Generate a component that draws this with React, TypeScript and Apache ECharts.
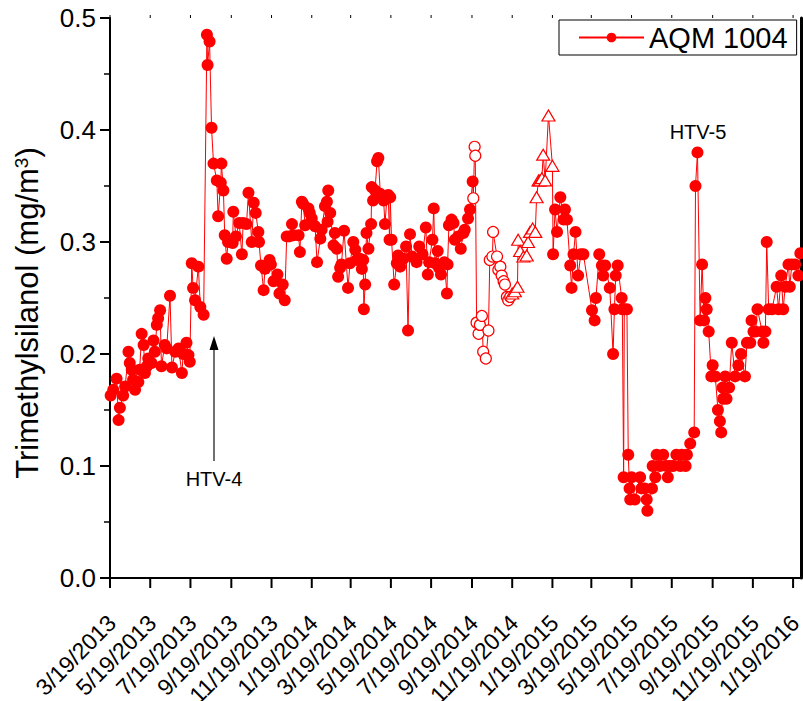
import { useEffect, useRef } from 'react';
import * as echarts from 'echarts';

const FONT = '"Liberation Sans", Arial, Helvetica, sans-serif';

const tickDates = [
  '2013-03-19', '2013-05-19', '2013-07-19', '2013-09-19', '2013-11-19',
  '2014-01-19', '2014-03-19', '2014-05-19', '2014-07-19', '2014-09-19',
  '2014-11-19', '2015-01-19', '2015-03-19', '2015-05-19', '2015-07-19',
  '2015-09-19', '2015-11-19', '2016-01-19',
];
const tickLabels = [
  '3/19/2013', '5/19/2013', '7/19/2013', '9/19/2013', '11/19/2013',
  '1/19/2014', '3/19/2014', '5/19/2014', '7/19/2014', '9/19/2014',
  '11/19/2014', '1/19/2015', '3/19/2015', '5/19/2015', '7/19/2015',
  '9/19/2015', '11/19/2015', '1/19/2016',
];
const xStart = '2013-03-19';
const xEnd = '2016-01-31';

const seriesName = 'AQM 1004';

// filled circles
const filledPoints: [string, number][] = [
  ['2013-03-20', 0.163], ['2013-03-24', 0.168], ['2013-03-29', 0.178], ['2013-04-01', 0.141],
  ['2013-04-03', 0.152], ['2013-04-08', 0.163], ['2013-04-11', 0.171], ['2013-04-16', 0.202],
  ['2013-04-18', 0.192], ['2013-04-21', 0.186], ['2013-04-23', 0.177], ['2013-04-26', 0.168],
  ['2013-05-01', 0.175], ['2013-05-03', 0.186], ['2013-05-06', 0.218], ['2013-05-09', 0.208],
  ['2013-05-11', 0.183], ['2013-05-14', 0.189], ['2013-05-16', 0.196], ['2013-05-21', 0.192],
  ['2013-05-24', 0.212], ['2013-05-26', 0.202], ['2013-05-29', 0.226], ['2013-05-31', 0.232],
  ['2013-06-03', 0.239], ['2013-06-05', 0.189], ['2013-06-10', 0.208], ['2013-06-13', 0.205],
  ['2013-06-18', 0.252], ['2013-06-21', 0.188], ['2013-06-26', 0.202], ['2013-07-01', 0.205],
  ['2013-07-06', 0.183], ['2013-07-08', 0.200], ['2013-07-13', 0.210], ['2013-07-16', 0.199],
  ['2013-07-18', 0.193], ['2013-07-21', 0.281], ['2013-07-23', 0.259], ['2013-07-26', 0.248],
  ['2013-07-31', 0.278], ['2013-08-03', 0.242], ['2013-08-08', 0.235], ['2013-08-13', 0.485],
  ['2013-08-14', 0.458], ['2013-08-17', 0.479], ['2013-08-20', 0.402], ['2013-08-23', 0.370],
  ['2013-08-28', 0.355], ['2013-08-30', 0.323], ['2013-09-03', 0.353], ['2013-09-04', 0.370],
  ['2013-09-07', 0.346], ['2013-09-09', 0.306], ['2013-09-12', 0.285], ['2013-09-14', 0.300],
  ['2013-09-21', 0.299], ['2013-09-22', 0.327], ['2013-09-26', 0.305], ['2013-10-01', 0.317],
  ['2013-10-05', 0.289], ['2013-10-07', 0.317], ['2013-10-12', 0.316], ['2013-10-15', 0.344],
  ['2013-10-20', 0.300], ['2013-10-23', 0.335], ['2013-10-26', 0.326], ['2013-10-30', 0.309],
  ['2013-10-31', 0.300], ['2013-11-03', 0.279], ['2013-11-07', 0.257], ['2013-11-09', 0.276],
  ['2013-11-16', 0.284], ['2013-11-18', 0.280], ['2013-11-22', 0.265], ['2013-11-28', 0.271],
  ['2013-12-01', 0.254], ['2013-12-06', 0.262], ['2013-12-09', 0.248], ['2013-12-12', 0.305],
  ['2013-12-16', 0.305], ['2013-12-20', 0.316], ['2013-12-22', 0.306], ['2013-12-30', 0.306],
  ['2014-01-01', 0.291], ['2014-01-04', 0.336], ['2014-01-06', 0.334], ['2014-01-09', 0.315],
  ['2014-01-14', 0.330], ['2014-01-16', 0.326], ['2014-01-19', 0.321], ['2014-01-24', 0.314],
  ['2014-01-27', 0.282], ['2014-02-01', 0.303], ['2014-02-03', 0.311], ['2014-02-08', 0.332],
  ['2014-02-11', 0.336], ['2014-02-12', 0.318], ['2014-02-13', 0.346], ['2014-02-16', 0.326],
  ['2014-02-21', 0.297], ['2014-02-23', 0.308], ['2014-02-26', 0.294], ['2014-02-28', 0.269],
  ['2014-03-03', 0.277], ['2014-03-05', 0.280], ['2014-03-09', 0.310], ['2014-03-15', 0.259],
  ['2014-03-18', 0.281], ['2014-03-23', 0.300], ['2014-03-26', 0.293], ['2014-03-28', 0.284],
  ['2014-04-02', 0.285], ['2014-04-05', 0.276], ['2014-04-07', 0.284], ['2014-04-08', 0.240],
  ['2014-04-10', 0.262], ['2014-04-12', 0.308], ['2014-04-15', 0.294], ['2014-04-19', 0.316],
  ['2014-04-20', 0.349], ['2014-04-22', 0.337], ['2014-04-25', 0.346], ['2014-04-28', 0.372],
  ['2014-04-30', 0.375], ['2014-05-03', 0.343], ['2014-05-08', 0.337], ['2014-05-10', 0.316],
  ['2014-05-13', 0.339], ['2014-05-15', 0.342], ['2014-05-17', 0.302], ['2014-05-18', 0.340],
  ['2014-05-20', 0.302], ['2014-05-24', 0.262], ['2014-05-28', 0.281], ['2014-05-30', 0.288],
  ['2014-06-02', 0.278], ['2014-06-07', 0.285], ['2014-06-11', 0.296], ['2014-06-14', 0.221],
  ['2014-06-17', 0.307], ['2014-06-20', 0.287], ['2014-06-27', 0.282], ['2014-07-01', 0.296],
  ['2014-07-06', 0.289], ['2014-07-11', 0.313], ['2014-07-14', 0.271], ['2014-07-16', 0.282],
  ['2014-07-21', 0.302], ['2014-07-23', 0.330], ['2014-07-25', 0.281], ['2014-07-29', 0.292],
  ['2014-07-31', 0.277], ['2014-08-03', 0.271], ['2014-08-08', 0.282], ['2014-08-12', 0.254],
  ['2014-08-13', 0.280], ['2014-08-15', 0.315], ['2014-08-19', 0.320], ['2014-08-22', 0.317],
  ['2014-08-24', 0.302], ['2014-08-29', 0.305], ['2014-09-02', 0.294], ['2014-09-06', 0.308],
  ['2014-09-08', 0.311], ['2014-09-13', 0.321], ['2014-09-16', 0.329], ['2014-09-20', 0.354],
  ['2015-01-20', 0.289], ['2015-01-23', 0.329], ['2015-01-26', 0.309], ['2015-01-31', 0.340],
  ['2015-02-05', 0.320], ['2015-02-07', 0.329], ['2015-02-10', 0.320], ['2015-02-15', 0.279],
  ['2015-02-17', 0.259], ['2015-02-20', 0.289], ['2015-02-23', 0.309], ['2015-02-27', 0.270],
  ['2015-03-03', 0.289], ['2015-03-07', 0.289], ['2015-03-20', 0.239], ['2015-03-24', 0.230],
  ['2015-03-26', 0.250], ['2015-03-31', 0.289], ['2015-04-04', 0.279], ['2015-04-06', 0.270],
  ['2015-04-09', 0.279], ['2015-04-16', 0.259], ['2015-04-21', 0.200], ['2015-04-23', 0.240],
  ['2015-04-25', 0.270], ['2015-04-28', 0.279], ['2015-05-04', 0.250], ['2015-05-05', 0.240],
  ['2015-05-07', 0.090], ['2015-05-08', 0.240], ['2015-05-12', 0.240], ['2015-05-14', 0.110],
  ['2015-05-16', 0.080], ['2015-05-17', 0.070], ['2015-05-19', 0.090], ['2015-05-24', 0.070],
  ['2015-06-01', 0.090], ['2015-06-03', 0.080], ['2015-06-08', 0.080], ['2015-06-11', 0.070],
  ['2015-06-12', 0.060], ['2015-06-19', 0.080], ['2015-06-20', 0.100], ['2015-06-24', 0.090],
  ['2015-06-26', 0.110], ['2015-07-01', 0.100], ['2015-07-06', 0.110], ['2015-07-11', 0.100],
  ['2015-07-13', 0.090], ['2015-07-16', 0.100], ['2015-07-21', 0.100], ['2015-07-26', 0.110],
  ['2015-08-01', 0.100], ['2015-08-03', 0.110], ['2015-08-09', 0.100], ['2015-08-11', 0.110],
  ['2015-08-16', 0.120], ['2015-08-22', 0.130], ['2015-08-24', 0.350], ['2015-08-27', 0.380],
  ['2015-08-31', 0.230], ['2015-09-03', 0.280], ['2015-09-06', 0.230], ['2015-09-08', 0.250],
  ['2015-09-10', 0.240], ['2015-09-13', 0.220], ['2015-09-17', 0.180], ['2015-09-19', 0.190],
  ['2015-09-23', 0.180], ['2015-09-27', 0.150], ['2015-09-30', 0.140], ['2015-10-02', 0.130],
  ['2015-10-04', 0.170], ['2015-10-05', 0.160], ['2015-10-08', 0.180], ['2015-10-10', 0.160],
  ['2015-10-14', 0.170], ['2015-10-18', 0.210], ['2015-10-23', 0.180], ['2015-10-28', 0.190],
  ['2015-11-01', 0.200], ['2015-11-07', 0.180], ['2015-11-10', 0.210], ['2015-11-15', 0.210],
  ['2015-11-17', 0.230], ['2015-11-20', 0.220], ['2015-11-23', 0.220], ['2015-11-26', 0.240],
  ['2015-12-03', 0.220], ['2015-12-05', 0.210], ['2015-12-08', 0.220], ['2015-12-10', 0.300],
  ['2015-12-13', 0.240], ['2015-12-18', 0.240], ['2015-12-25', 0.260], ['2015-12-28', 0.240],
  ['2016-01-01', 0.270], ['2016-01-04', 0.240], ['2016-01-07', 0.260], ['2016-01-12', 0.280],
  ['2016-01-14', 0.260], ['2016-01-17', 0.280], ['2016-01-22', 0.280], ['2016-01-27', 0.270],
  ['2016-01-30', 0.290],
];

// open circles
const openCirclePoints: [string, number][] = [
  ['2014-09-21', 0.339], ['2014-09-23', 0.385], ['2014-09-24', 0.377], ['2014-09-26', 0.228],
  ['2014-09-29', 0.218], ['2014-10-01', 0.226], ['2014-10-04', 0.234], ['2014-10-06', 0.202],
  ['2014-10-10', 0.196], ['2014-10-14', 0.221], ['2014-10-16', 0.284], ['2014-10-20', 0.287],
  ['2014-10-21', 0.309], ['2014-10-27', 0.287], ['2014-10-29', 0.275], ['2014-11-01', 0.278],
  ['2014-11-03', 0.270], ['2014-11-06', 0.265], ['2014-11-08', 0.262], ['2014-11-11', 0.251],
  ['2014-11-13', 0.248], ['2014-11-16', 0.251],
];

// open triangles
const trianglePoints: [string, number][] = [
  ['2014-11-19', 0.254], ['2014-11-23', 0.256], ['2014-11-27', 0.260], ['2014-11-28', 0.302],
  ['2014-12-01', 0.292], ['2014-12-06', 0.287], ['2014-12-11', 0.288], ['2014-12-13', 0.300],
  ['2014-12-16', 0.309], ['2014-12-20', 0.312], ['2014-12-24', 0.309], ['2014-12-26', 0.340],
  ['2014-12-29', 0.355], ['2014-12-31', 0.355], ['2015-01-03', 0.357], ['2015-01-05', 0.378],
  ['2015-01-08', 0.355], ['2015-01-13', 0.413], ['2015-01-19', 0.368],
];

function ts(s: string): number {
  const [y, m, d] = s.split('-').map(Number);
  return new Date(y, m - 1, d).getTime();
}

const RED = '#ff0000';

export default function App() {
  const ref = useRef<HTMLDivElement>(null);

  useEffect(() => {
    if (!ref.current) return;
    const chart = echarts.init(ref.current, undefined, { renderer: 'svg' });

    const openStyle = { color: '#ffffff', borderColor: RED, borderWidth: 1.2 };
    const merged: any[] = [
      ...filledPoints.map(([d, v]) => ({ value: [ts(d), v] })),
      ...openCirclePoints.map(([d, v]) => ({
        value: [ts(d), v], symbol: 'circle', symbolSize: 11, itemStyle: openStyle,
      })),
      ...trianglePoints.map(([d, v]) => ({
        value: [ts(d), v], symbol: 'triangle', symbolSize: [13, 11], itemStyle: openStyle,
      })),
    ].sort((a, b) => a.value[0] - b.value[0]);

    const textStyle = (size: number, align: string, valign: string, text: string) => ({
      text,
      font: `${size}px ${FONT}`,
      fill: '#000',
      align,
      verticalAlign: valign,
      textAlign: align,
      textVerticalAlign: valign,
    });

    chart.setOption({
      animation: false,
      backgroundColor: '#ffffff',
      grid: { left: 110, right: 2, top: 18, bottom: 123, show: false },
      legend: {
        data: [seriesName],
        left: 559,
        top: 20,
        padding: [3, 9, 3, 19],
        itemWidth: 65,
        itemHeight: 12,
        itemGap: 0,
        borderColor: '#000',
        borderWidth: 1,
        backgroundColor: '#fff',
        textStyle: { fontSize: 29, fontFamily: FONT, color: '#000' },
      },
      xAxis: [
        {
          type: 'time',
          min: ts(xStart),
          max: ts(xEnd),
          axisLine: { show: true, lineStyle: { color: '#000', width: 2 } },
          axisTick: { show: false },
          axisLabel: { show: false },
          splitLine: { show: false },
        },
        {
          type: 'time',
          position: 'top',
          min: ts(xStart),
          max: ts(xEnd),
          axisLine: { show: true, lineStyle: { color: '#000', width: 1.5 } },
          axisTick: { show: false },
          axisLabel: { show: false },
          splitLine: { show: false },
        },
      ],
      yAxis: [
        {
          type: 'value',
          min: 0,
          max: 0.5,
          interval: 0.1,
          name: '{a|Trimethylsilanol (mg/m}{s|3}{a|)}',
          nameLocation: 'middle',
          nameGap: 67,
          nameRotate: 90,
          nameTextStyle: {
            padding: [0, 30, 0, 0],
            rich: {
              a: { fontSize: 31, fontFamily: FONT, color: '#000' },
              s: { fontSize: 19, fontFamily: FONT, color: '#000', verticalAlign: 'top' },
            },
          },
          axisLine: { show: true, lineStyle: { color: '#000', width: 2 } },
          axisTick: { show: true, length: 10, lineStyle: { color: '#000', width: 2 } },
          minorTick: { show: true, splitNumber: 2, length: 6, lineStyle: { color: '#000', width: 1.5 } },
          splitLine: { show: false },
          axisLabel: {
            fontSize: 26,
            fontFamily: FONT,
            color: '#000',
            margin: 14,
            formatter: (v: number) => v.toFixed(1),
          },
        },
        {
          type: 'value',
          position: 'right',
          min: 0,
          max: 0.5,
          axisLine: { show: true, lineStyle: { color: '#000', width: 3 } },
          axisTick: { show: false },
          axisLabel: { show: false },
          splitLine: { show: false },
        },
      ],
      series: [
        {
          name: seriesName,
          type: 'line',
          xAxisIndex: 0,
          yAxisIndex: 0,
          data: merged,
          symbol: 'circle',
          symbolSize: 12,
          showSymbol: true,
          itemStyle: { color: RED },
          lineStyle: { color: RED, width: 1 },
          z: 3,
        },
        {
          name: 'ticks',
          type: 'custom',
          xAxisIndex: 0,
          yAxisIndex: 0,
          silent: true,
          clip: false,
          data: tickDates.map((d) => [ts(d), 0]),
          renderItem: (params: any, api: any) => {
            const xv = api.value(0);
            const p0 = api.coord([xv, 0]);
            const p1 = api.coord([xv, 0.5]);
            const label = tickLabels[params.dataIndex];
            return {
              type: 'group',
              children: [
                {
                  type: 'line',
                  shape: { x1: p0[0], y1: p0[1], x2: p0[0], y2: p0[1] + 10 },
                  style: { stroke: '#000', lineWidth: 2 },
                },
                {
                  type: 'line',
                  shape: { x1: p1[0], y1: p1[1], x2: p1[0], y2: p1[1] - 3 },
                  style: { stroke: '#000', lineWidth: 1 },
                },
                {
                  type: 'text',
                  x: p0[0] + 2,
                  y: p0[1] + 41,
                  rotation: Math.PI / 4,
                  style: textStyle(23, 'right', 'middle', label),
                },
              ],
            };
          },
          z: 5,
        },
      ],
      graphic: [
        { type: 'text', x: 214, y: 479, style: textStyle(20, 'center', 'middle', 'HTV-4') },
        { type: 'line', shape: { x1: 214, y1: 461, x2: 214, y2: 348 }, style: { stroke: '#222', lineWidth: 1.3 } },
        { type: 'polygon', shape: { points: [[214, 336], [209.5, 350], [218.5, 350]] }, style: { fill: '#000' } },
        { type: 'text', x: 698, y: 132, style: textStyle(20, 'center', 'middle', 'HTV-5') },
      ],
    });

    return () => chart.dispose();
  }, []);

  return (
    <div
      ref={ref}
      style={{ position: 'fixed', left: 0, top: 0, width: 803, height: 701, background: '#fff' }}
    />
  );
}
